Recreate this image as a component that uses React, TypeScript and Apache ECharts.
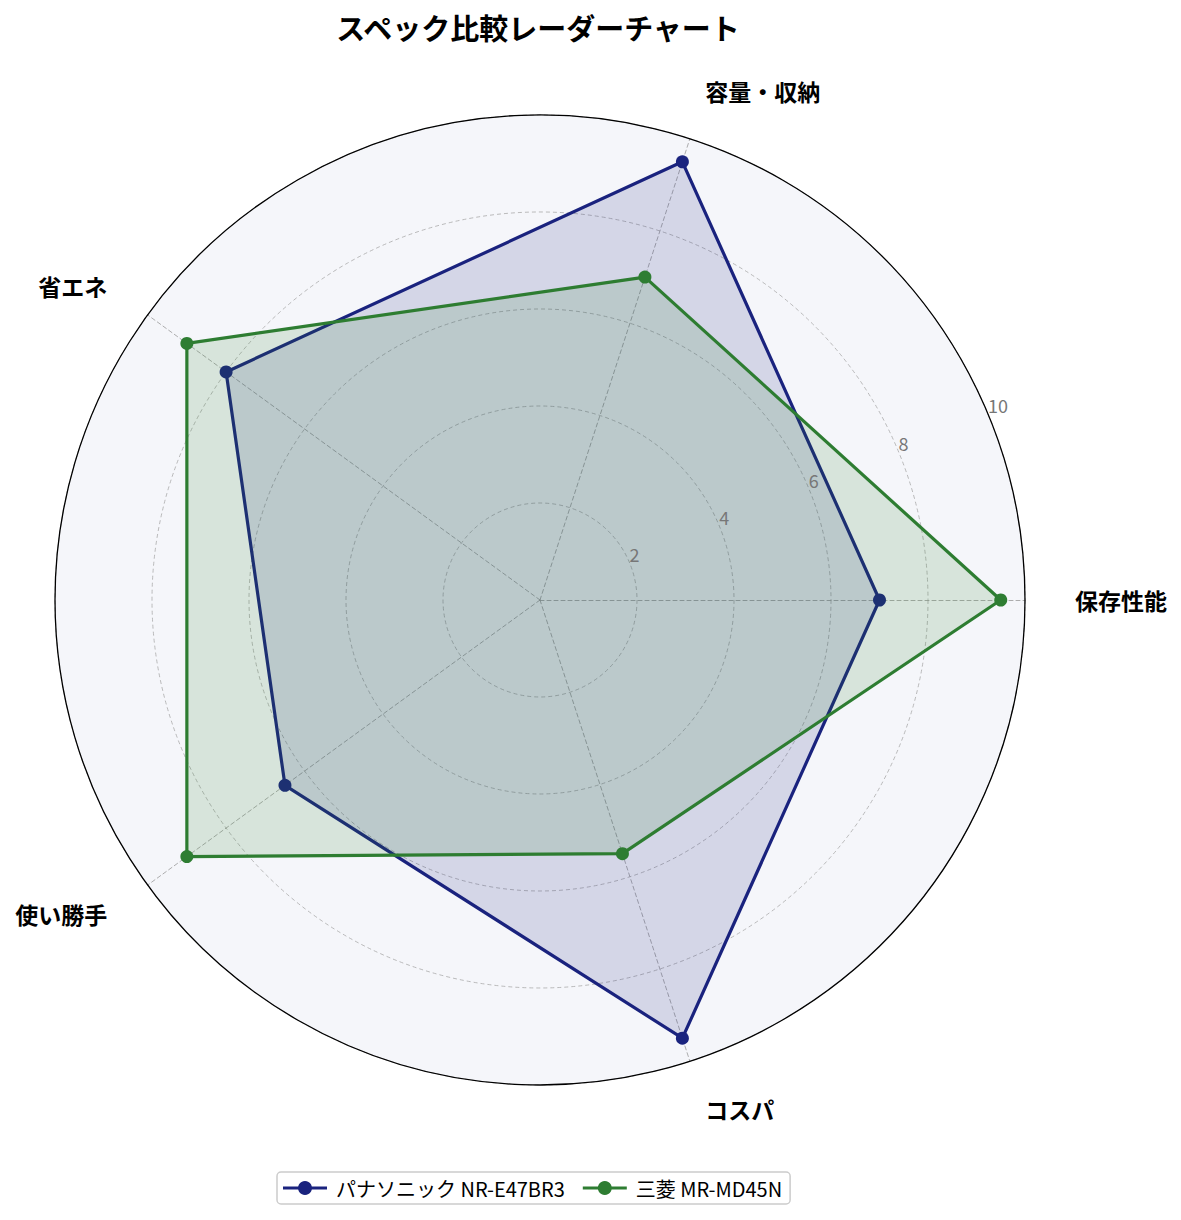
import { useEffect, useRef } from 'react'
import * as echarts from 'echarts'

const INDICATORS = ['保存性能', '容量・収納', '省エネ', '使い勝手', 'コスパ']
const PANASONIC = [7.0, 9.5, 8.0, 6.5, 9.5]
const MITSUBISHI = [9.5, 7.0, 9.0, 9.0, 5.5]
const SERIES_NAMES = ['パナソニック NR-E47BR3', '三菱 MR-MD45N']
const R_MAX = 10
const R_STEP = 2

const NAVY = '#1a237e'
const GREEN = '#2e7d32'
const FONT = '"Noto Sans CJK JP", "Noto Sans", sans-serif'
// 凡例アイコン：線＋丸
const LEGEND_ICON = 'path://M0,5.5H44V8.5H0Z M22,0A7,7 0 1,1 21.99,0Z'

export default function App() {
  const elRef = useRef<HTMLDivElement>(null)

  useEffect(() => {
    document.body.style.margin = '0'
    if (!elRef.current) return
    const chart = echarts.init(elRef.current, undefined, { renderer: 'svg' })
    const center = [540, 600]
    const radius = 485
    chart.setOption({
      animation: false,
      backgroundColor: '#fff',
      textStyle: { fontFamily: FONT },
      title: {
        text: 'スペック比較レーダーチャート',
        left: 533,
        textAlign: 'center',
        top: 7,
        textStyle: { fontSize: 29, fontWeight: 'bold', color: '#000', fontFamily: FONT },
      },
      legend: {
        data: SERIES_NAMES,
        left: 277,
        top: 1172,
        icon: LEGEND_ICON,
        itemWidth: 44,
        itemHeight: 14,
        itemGap: 18,
        padding: [6, 8, 6, 6],
        borderColor: '#ccc',
        borderWidth: 1.5,
        borderRadius: 4,
        textStyle: { fontSize: 20, color: '#000', fontFamily: FONT, padding: [0, 0, 0, 4] },
      },
      radar: {
        center,
        radius,
        startAngle: 0,
        shape: 'circle',
        splitNumber: R_MAX / R_STEP,
        indicator: INDICATORS.map((name) => ({ name, min: 0, max: R_MAX })),
        nameGap: 50,
        axisName: { color: '#000', fontSize: 23, fontWeight: 'bold', fontFamily: FONT },
        splitArea: { areaStyle: { color: ['#f5f6fa'] } },
        splitLine: { lineStyle: { color: '#aaa', type: [4, 3], width: 0.8 } },
        axisLine: { lineStyle: { color: '#999', type: [4, 3], width: 0.8 } },
        axisTick: { show: false },
        axisLabel: { show: false },
      },
      polar: { center, radius },
      angleAxis: {
        type: 'value',
        min: 0,
        max: 360,
        startAngle: 22.5,
        z: 10,
        axisLine: { show: true, lineStyle: { color: '#000', width: 1.3 } },
        axisTick: { show: false },
        axisLabel: { show: false },
        splitLine: { show: false },
      },
      radiusAxis: {
        type: 'value',
        min: 0,
        max: R_MAX,
        interval: R_STEP,
        z: 10,
        axisLine: { show: false },
        axisTick: { show: false },
        splitLine: { show: false },
        axisLabel: {
          color: '#777',
          fontSize: 18,
          margin: 0,
          align: 'left',
          verticalAlign: 'bottom',
          fontFamily: FONT,
          formatter: (v: number) => (v === 0 ? '' : String(v)),
        },
      },
      series: [
        {
          type: 'radar',
          name: SERIES_NAMES[0],
          symbol: 'circle',
          symbolSize: 13,
          z: 3,
          itemStyle: { color: NAVY },
          lineStyle: { color: NAVY, width: 3.2 },
          areaStyle: { color: NAVY, opacity: 0.15 },
          data: [{ value: PANASONIC, name: SERIES_NAMES[0] }],
        },
        {
          type: 'radar',
          name: SERIES_NAMES[1],
          symbol: 'circle',
          symbolSize: 13,
          z: 4,
          itemStyle: { color: GREEN },
          lineStyle: { color: GREEN, width: 3.2 },
          areaStyle: { color: GREEN, opacity: 0.15 },
          data: [{ value: MITSUBISHI, name: SERIES_NAMES[1] }],
        },
      ],
    })
    return () => chart.dispose()
  }, [])

  return <div ref={elRef} style={{ width: 1181, height: 1220 }} />
}
